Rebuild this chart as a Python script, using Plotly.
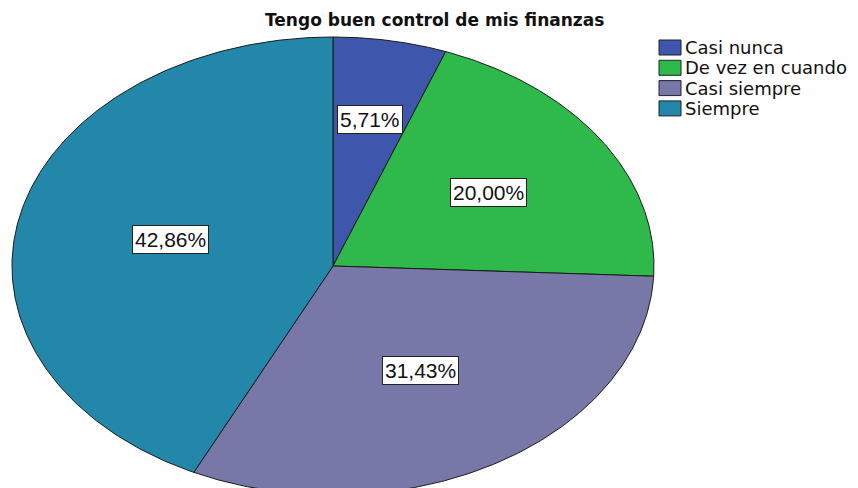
import numpy as np
import plotly.graph_objects as go

# ---- data ----
categories = ["Casi nunca", "De vez en cuando", "Casi siempre", "Siempre"]
percentages = [5.71, 20.00, 31.43, 42.86]
title_text = "Tengo buen control de mis finanzas"

# ---- style ----
colors = ["#3E57AC", "#2EB94A", "#7878A8", "#2387A9"]
label_r = [0.65, 0.58, 0.53, 0.52]
FONT = "DejaVu Sans, Verdana, sans-serif"
LABEL_FONT = "Liberation Sans, Arial, sans-serif"

W, H = 858, 488
cx, cy = 325, 258     # ellipse centre (figure pixel space)
rx, ry = 321, 229     # ellipse radii

fig = go.Figure()
total = sum(percentages)
start = 0.0
annotations = []
shapes = []
for i, (cat, val) in enumerate(zip(categories, percentages)):
    a0 = start / total * 2 * np.pi
    a1 = (start + val) / total * 2 * np.pi
    th = np.linspace(a0, a1, 200)
    xs = np.concatenate([[cx], cx + rx * np.sin(th), [cx]])
    ys = np.concatenate([[cy], cy - ry * np.cos(th), [cy]])
    fig.add_trace(go.Scatter(
        x=xs, y=ys, mode="lines", fill="toself",
        fillcolor=colors[i], line=dict(color="#1a1a1a", width=1),
        name=cat, hoverinfo="name", showlegend=False,
    ))
    mid = (a0 + a1) / 2
    lx = cx + label_r[i] * rx * np.sin(mid)
    ly = cy - label_r[i] * ry * np.cos(mid)
    annotations.append(dict(
        x=lx, y=ly, xref="x", yref="y", showarrow=False,
        text=f"{val:.2f}%".replace(".", ","),
        font=dict(family=LABEL_FONT, size=21, color="#111"),
        bgcolor="white", bordercolor="#222", borderwidth=1, borderpad=2,
    ))
    start += val

# custom legend (square swatches + labels)
leg_x0, leg_y0, leg_step = 651, 39.5, 20.3
for i, cat in enumerate(categories):
    yc = leg_y0 + leg_step * i
    shapes.append(dict(
        type="rect", xref="x", yref="y",
        x0=leg_x0, x1=leg_x0 + 22, y0=yc - 7.5, y1=yc + 7.5,
        fillcolor=colors[i], line=dict(color="#222", width=1),
    ))
    annotations.append(dict(
        x=leg_x0 + 24, y=yc, xref="x", yref="y", showarrow=False,
        xanchor="left", yanchor="middle", text=cat,
        font=dict(family=FONT, size=18, color="#111"),
    ))

annotations.append(dict(
    x=426.5, y=12, xref="x", yref="y", showarrow=False,
    text=f"<b>{title_text}</b>",
    font=dict(family=FONT, size=17, color="#111"),
))

fig.update_layout(
    width=W, height=H,
    margin=dict(l=0, r=0, t=0, b=0),
    paper_bgcolor="white", plot_bgcolor="white",
    xaxis=dict(range=[0, W], visible=False, fixedrange=True),
    yaxis=dict(range=[H, 0], visible=False, fixedrange=True),
    annotations=annotations,
    shapes=shapes,
    showlegend=False,
)

fig.write_html("out.html")
